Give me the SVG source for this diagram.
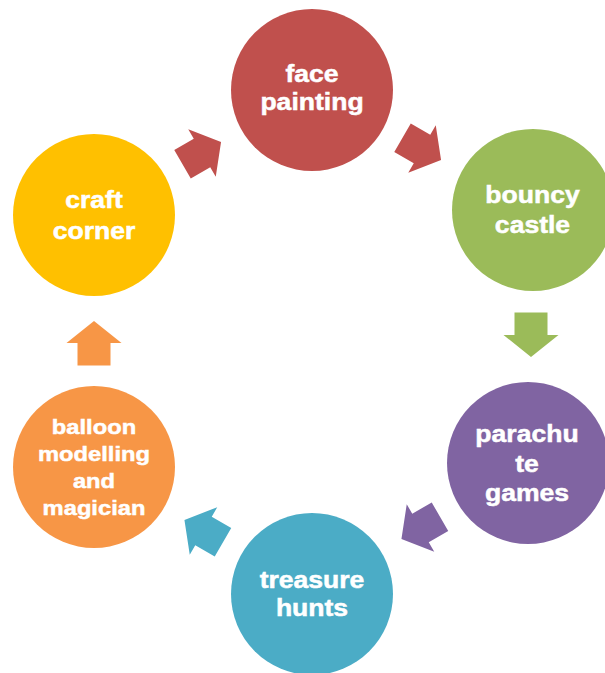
<svg xmlns="http://www.w3.org/2000/svg" xmlns:xlink="http://www.w3.org/1999/xlink" width="605" height="673" viewBox="0 0 605 673">
  <style>
    .lbl { font-family: "Liberation Sans", Arial, sans-serif; font-weight: bold; font-size: 23.5px; fill: #FFFFFF; stroke: #FFFFFF; stroke-width: 0.5px; text-anchor: middle; }
    .sm { font-size: 21px; }
  </style>
  <defs>
    <polygon id="arrow" points="-22.5,-16.5 0,-16.5 0,-27.5 22,0 0,27.5 0,16.5 -22.5,16.5"/>
  </defs>
  <rect width="605" height="673" fill="#FFFFFF"/>
  <g id="connectors">
    <use xlink:href="#arrow" href="#arrow" fill="#C0504D" transform="translate(202,153) rotate(-30)"/>
    <use xlink:href="#arrow" href="#arrow" fill="#C0504D" transform="translate(422,149) rotate(30)"/>
    <use xlink:href="#arrow" href="#arrow" fill="#9BBB59" transform="translate(531,335) rotate(90)"/>
    <use xlink:href="#arrow" href="#arrow" fill="#8064A2" transform="translate(420.5,528) rotate(150)"/>
    <use xlink:href="#arrow" href="#arrow" fill="#4BACC6" transform="translate(203.5,531) rotate(210)"/>
    <use xlink:href="#arrow" href="#arrow" fill="#F79646" transform="translate(94,343) rotate(-90)"/>
  </g>
  <g id="face-painting">
    <circle cx="312" cy="90" r="81" fill="#C0504D"/>
    <g transform="translate(312,0) scale(1.13,1)">
      <text class="lbl" x="0" y="82">face</text>
      <text class="lbl" x="0" y="110">painting</text>
    </g>
  </g>
  <g id="bouncy-castle">
    <circle cx="533" cy="210" r="81" fill="#9BBB59"/>
    <g transform="translate(532.5,0) scale(1.13,1)">
      <text class="lbl" x="0" y="203">bouncy</text>
      <text class="lbl" x="0" y="233">castle</text>
    </g>
  </g>
  <g id="parachute-games">
    <circle cx="528" cy="463" r="81" fill="#8064A2"/>
    <g transform="translate(527,0) scale(1.13,1)">
      <text class="lbl" x="0" y="442">parachu</text>
      <text class="lbl" x="0" y="472">te</text>
      <text class="lbl" x="0" y="501">games</text>
    </g>
  </g>
  <g id="treasure-hunts">
    <circle cx="312" cy="594" r="81" fill="#4BACC6"/>
    <g transform="translate(312,0) scale(1.13,1)">
      <text class="lbl" x="0" y="588">treasure</text>
      <text class="lbl" x="0" y="616">hunts</text>
    </g>
  </g>
  <g id="balloon-modelling">
    <circle cx="94" cy="467" r="81" fill="#F79646"/>
    <g transform="translate(94,0) scale(1.13,1)">
      <text class="lbl sm" x="0" y="434">balloon</text>
      <text class="lbl sm" x="0" y="461">modelling</text>
      <text class="lbl sm" x="0" y="488">and</text>
      <text class="lbl sm" x="0" y="515">magician</text>
    </g>
  </g>
  <g id="craft-corner">
    <circle cx="94" cy="215" r="81" fill="#FFC000"/>
    <g transform="translate(94,0) scale(1.13,1)">
      <text class="lbl" x="0" y="208">craft</text>
      <text class="lbl" x="0" y="239">corner</text>
    </g>
  </g>
</svg>
